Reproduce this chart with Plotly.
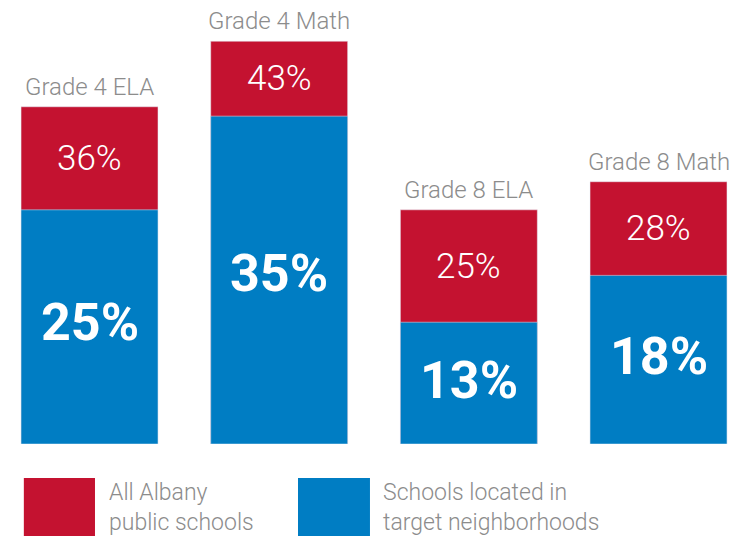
import plotly.graph_objects as go

grades = ["Grade 4 ELA", "Grade 4 Math", "Grade 8 ELA", "Grade 8 Math"]
all_albany = [36, 43, 25, 28]
target_hoods = [25, 35, 13, 18]

red = "#C41230"
blue = "#007DC3"
gray = "#8C8C8C"

x = list(range(len(grades)))

fig = go.Figure()
fig.add_trace(go.Bar(x=x, y=all_albany, marker_color=red, width=0.722,
                     name="All Albany public schools", hoverinfo="skip"))
fig.add_trace(go.Bar(x=x, y=target_hoods, marker_color=blue, width=0.722,
                     name="Schools located in target neighborhoods", hoverinfo="skip"))

for i, g in enumerate(grades):
    # grade title above the bar
    fig.add_annotation(x=i, y=all_albany[i], text=g, showarrow=False,
                       yanchor="bottom", yshift=4,
                       font=dict(family="Roboto", size=24, color=gray, weight=300))
    # all albany value in the red part
    fig.add_annotation(x=i, y=(all_albany[i] + target_hoods[i]) / 2,
                       text=f"{all_albany[i]}%", showarrow=False,
                       font=dict(family="Roboto", size=35, color="white", weight=300))
    # target neighborhood value in the blue part
    fig.add_annotation(x=i, y=target_hoods[i] * 0.52,
                       text=f"{target_hoods[i]}%", showarrow=False,
                       font=dict(family="Roboto", size=52, color="white", weight=700))

# legend drawn by hand
fig.add_shape(type="rect", xref="paper", yref="paper",
              x0=0.032, x1=0.1275, y0=-0.207, y1=-0.0766,
              fillcolor=red, line_width=0)
fig.add_shape(type="rect", xref="paper", yref="paper",
              x0=0.4, x1=0.4966, y0=-0.207, y1=-0.0766,
              fillcolor=blue, line_width=0)
fig.add_annotation(xref="paper", yref="paper", x=0.143, y=-0.144,
                   text="All Albany<br>public schools", showarrow=False,
                   xanchor="left", yanchor="middle", align="left",
                   font=dict(family="Roboto", size=23, color=gray, weight=300))
fig.add_annotation(xref="paper", yref="paper", x=0.512, y=-0.144,
                   text="Schools located in<br>target neighborhoods", showarrow=False,
                   xanchor="left", yanchor="middle", align="left",
                   font=dict(family="Roboto", size=23, color=gray, weight=300))

fig.update_layout(
    width=745, height=536,
    barmode="overlay",
    showlegend=False,
    plot_bgcolor="white", paper_bgcolor="white",
    margin=dict(l=0, r=0, t=0, b=92),
    xaxis=dict(range=[-0.472, 3.456], visible=False, fixedrange=True),
    yaxis=dict(range=[0, 47.4], visible=False, fixedrange=True),
)

fig.write_html("out.html", config={"displayModeBar": False},
               post_script="document.body.style.margin='0';")
